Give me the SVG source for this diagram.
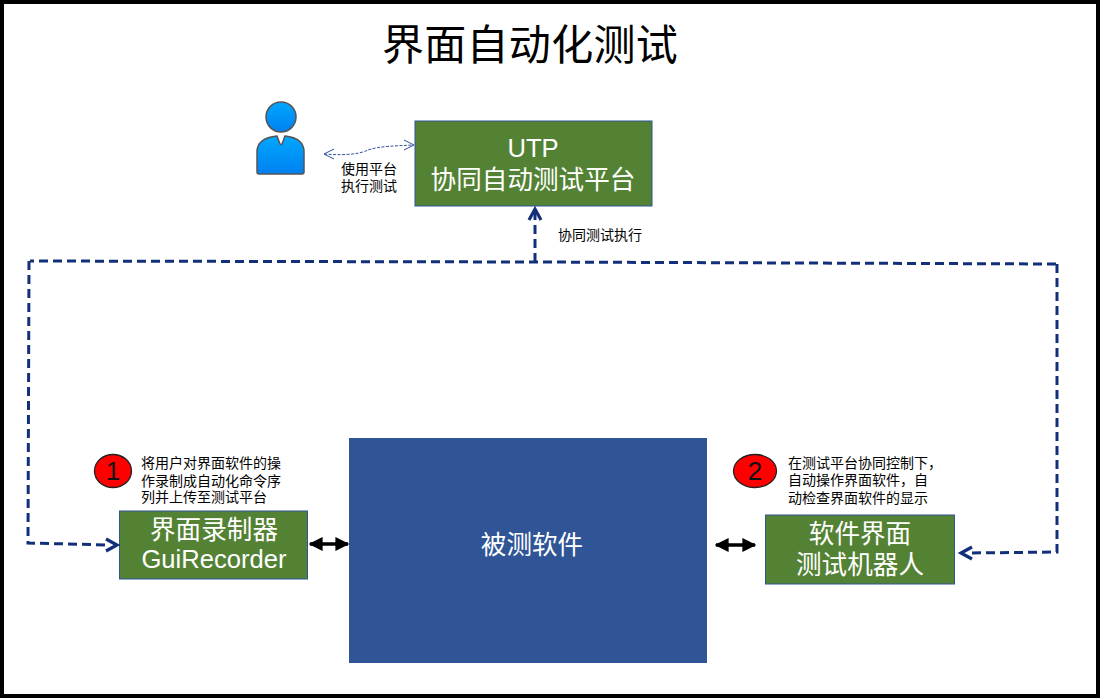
<svg xmlns="http://www.w3.org/2000/svg" width="1101" height="699" viewBox="0 0 1101 699">
<style>
text{font-family:"Liberation Sans","Noto Sans CJK SC",sans-serif;text-anchor:middle}
.box{fill:#548235;stroke:#2f5597;stroke-width:1}
.w{fill:#fff;font-size:25.6px}
.n{fill:#000;font-size:14px;text-anchor:start}
.c{fill:#f00;stroke:#222;stroke-width:1.3}
.num{fill:#111;font-size:26px}
.d{fill:none;stroke:#12307a;stroke-width:3;stroke-dasharray:9 5}
.h{fill:none;stroke:#12307a;stroke-width:3.200}
.t{fill:none;stroke:#2f4f9f;stroke-width:1}
.b{fill:none;stroke:#000;stroke-width:3.500}
</style>
<defs>
<linearGradient id="g" x1="0" y1="0" x2="0" y2="1"><stop offset="0" stop-color="#00a8ff"/><stop offset="1" stop-color="#0080f0"/></linearGradient>
<marker id="ba" viewBox="0 0 10 10" refX="9" refY="5" markerWidth="4" markerHeight="4" orient="auto-start-reverse"><path d="M0 0L10 5L0 10Z" fill="#000"/></marker>
</defs>
<rect x="2" y="2" width="1096" height="694" fill="#fff" stroke="#000" stroke-width="4"/>
<text x="530" y="60" style="font-size:42px;font-family:'Noto Sans CJK SC',sans-serif;letter-spacing:0.300px" fill="#000">界面自动化测试</text>
<g id="user">
<circle cx="281" cy="117" r="15" fill="url(#g)" stroke="#555" stroke-width="1.500"/>
<path d="M257 172V152Q257 138 277 136L280 144Q281 145 282 144L285 136Q304 138 304 152V172Q304 174 302 174H259Q257 174 257 172Z" fill="url(#g)" stroke="#555" stroke-width="1.500"/>
</g>
<g id="utp">
<rect class="box" x="415" y="121" width="237" height="85"/>
<text class="w" x="533" y="157">UTP</text>
<text class="w" x="533" y="189">协同自动测试平台</text>
</g>
<g id="sut">
<rect x="349" y="438" width="358" height="225" fill="#2f5597"/>
<text class="w" x="532" y="554">被测软件</text>
</g>
<g id="recorder">
<rect class="box" x="119.500" y="511" width="188" height="68"/>
<text class="w" x="214" y="539">界面录制器</text>
<text class="w" x="214" y="568">GuiRecorder</text>
</g>
<g id="robot">
<rect class="box" x="765.500" y="515" width="189" height="69"/>
<text class="w" x="860" y="543">软件界面</text>
<text class="w" x="860" y="574">测试机器人</text>
</g>
<g id="step1">
<ellipse class="c" cx="113" cy="471" rx="18.500" ry="16.500"/>
<text class="num" x="113" y="480">1</text>
<text class="n" x="141" y="468">将用户对界面软件的操</text>
<text class="n" x="141" y="486">作录制成自动化命令序</text>
<text class="n" x="141" y="502">列并上传至测试平台</text>
</g>
<g id="step2">
<ellipse class="c" cx="755" cy="471" rx="21.500" ry="16.500"/>
<text class="num" x="755" y="480">2</text>
<text class="n" x="788" y="468">在测试平台协同控制下，</text>
<text class="n" x="788" y="485">自动操作界面软件，自</text>
<text class="n" x="788" y="503">动检查界面软件的显示</text>
</g>
<g id="labels">
<text class="n" x="341" y="174">使用平台</text>
<text class="n" x="341" y="191">执行测试</text>
<text class="n" x="558" y="240">协同测试执行</text>
</g>
<g id="connectors">
<path class="t" stroke-dasharray="3 1.500" d="M324 154C350 156 362 153 368 150C380 146 395 146 413 145"/>
<path class="t" d="M334 149L324 154L334 159M404 140L414 145L404 150"/>
<path class="d" d="M1056 264L535 262L30 261"/>
<path class="d" d="M535 262V212"/>
<path class="h" d="M529 220L535 209L541 220"/>
<path class="d" d="M29 261L28 543L110 545"/>
<path class="h" d="M106 539L117 545L106 551"/>
<path class="d" d="M1057 264V552L970 553"/>
<path class="h" d="M972 547L961 553L972 559"/>
<path class="b" marker-start="url(#ba)" marker-end="url(#ba)" d="M310 544H348"/>
<path class="b" marker-start="url(#ba)" marker-end="url(#ba)" d="M716 545H755"/>
</g>
</svg>
